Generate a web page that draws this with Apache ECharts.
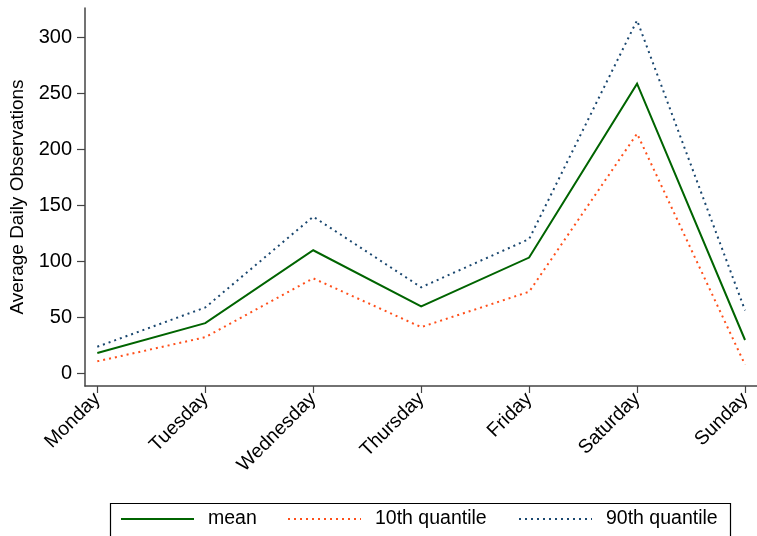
<!DOCTYPE html>
<html>
<head>
<meta charset="utf-8">
<script src="https://cdn.jsdelivr.net/npm/echarts@6/dist/echarts.min.js"></script>
<style>
html,body{margin:0;padding:0;background:#fff;}
#chart{width:757px;height:536px;}
</style>
</head>
<body>
<div id="chart"></div>
<script>
const days = ["Monday","Tuesday","Wednesday","Thursday","Friday","Saturday","Sunday"];
const meanVals = [18.5, 45, 110, 60, 103.5, 258.5, 30];
const q10Vals = [11, 32.5, 85, 41.5, 73, 214, 8];
const q90Vals = [24, 59, 140, 77, 120, 315, 56.5];
const yTicks = [0, 50, 100, 150, 200, 250, 300];
const xTicks = [0, 1, 2, 3, 4, 5, 6];

const FONT = '"Liberation Sans", Arial, Helvetica, sans-serif';
const chart = echarts.init(document.getElementById('chart'), null, {renderer: 'canvas'});
const toPairs = arr => arr.map((v, i) => [i, v]);
const axisCol = '#444';

const legendBase = {
  top: 509, itemWidth: 73, itemHeight: 18, padding: 0,
  itemStyle: {opacity: 0},
  textStyle: {fontFamily: FONT, fontSize: 19.5, color: '#000', padding: [0, 0, 0, 9]}
};

chart.setOption({
  animation: false,
  backgroundColor: '#fff',
  grid: {left: 85, right: 0, top: 8, bottom: 150, containLabel: false, outerBoundsMode: 'none'},
  xAxis: {
    type: 'value', min: -0.114, max: 6.111,
    axisLine: {show: true, onZero: false, lineStyle: {color: axisCol, width: 1.5}},
    axisTick: {show: true, length: 7, customValues: xTicks, lineStyle: {color: axisCol, width: 1.2}},
    axisLabel: {
      customValues: xTicks, rotate: 45, margin: 10,
      fontFamily: FONT, fontSize: 19.5, color: '#000',
      formatter: v => days[Math.round(v)]
    },
    splitLine: {show: false}
  },
  yAxis: {
    type: 'value', min: -11, max: 326,
    name: 'Average Daily Observations', nameLocation: 'middle', nameGap: 58,
    nameTextStyle: {fontFamily: FONT, fontSize: 19, color: '#000'},
    axisLine: {show: true, onZero: false, lineStyle: {color: axisCol, width: 1.5}},
    axisTick: {show: true, length: 8, customValues: yTicks, lineStyle: {color: axisCol, width: 1.2}},
    axisLabel: {customValues: yTicks, margin: 13, fontFamily: FONT, fontSize: 20, color: '#000'},
    splitLine: {show: false}
  },
  legend: [
    Object.assign({}, legendBase, {left: 120, data: ['mean']}),
    Object.assign({}, legendBase, {left: 287, data: ['10th quantile']}),
    Object.assign({}, legendBase, {left: 518, data: ['90th quantile']})
  ],
  graphic: [{
    type: 'rect', left: 108, top: 501, silent: true,
    shape: {width: 620, height: 45},
    style: {fill: 'none', stroke: '#000', lineWidth: 1.2}
  }],
  series: [
    {name: 'mean', type: 'line', data: toPairs(meanVals), symbol: 'none',
     lineStyle: {color: '#006400', width: 2, type: 'solid', join: 'miter'},
     itemStyle: {color: '#006400'}},
    {name: '10th quantile', type: 'line', data: toPairs(q10Vals), symbol: 'none',
     lineStyle: {color: '#ff4f1a', width: 2, type: [2, 4], join: 'miter'},
     itemStyle: {color: '#ff4f1a'}},
    {name: '90th quantile', type: 'line', data: toPairs(q90Vals), symbol: 'none',
     lineStyle: {color: '#1a476f', width: 2, type: [2, 4], join: 'miter'},
     itemStyle: {color: '#1a476f'}}
  ]
});
</script>
</body>
</html>
